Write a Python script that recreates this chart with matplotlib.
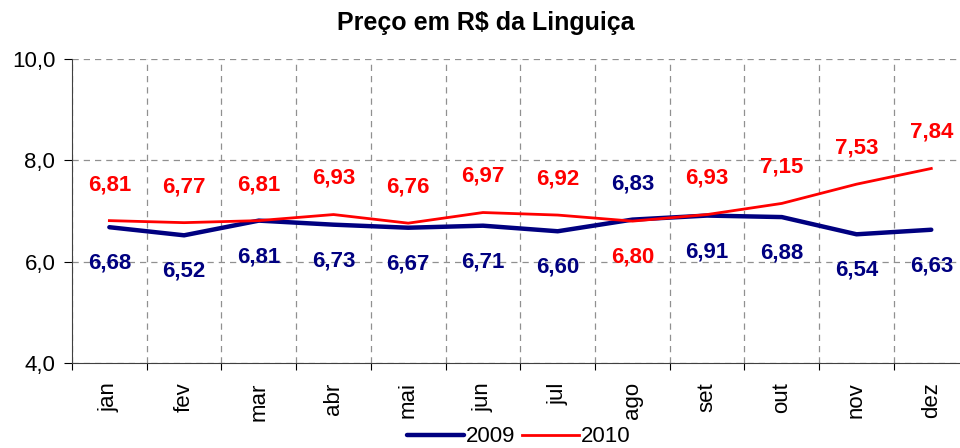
import numpy as np
import matplotlib.pyplot as plt

plt.rcParams['font.family'] = ['Liberation Sans', 'DejaVu Sans']

meses = ["jan", "fev", "mar", "abr", "mai", "jun", "jul", "ago", "set", "out", "nov", "dez"]
preco_2009 = [6.68, 6.52, 6.81, 6.73, 6.67, 6.71, 6.60, 6.83, 6.91, 6.88, 6.54, 6.63]
preco_2010 = [6.81, 6.77, 6.81, 6.93, 6.76, 6.97, 6.92, 6.80, 6.93, 7.15, 7.53, 7.84]

cor_2009 = "#000080"
cor_2010 = "#ff0000"

fig = plt.figure(figsize=(9.6, 4.48), dpi=100)
# o grafico original fica cortado na borda direita
ax = fig.add_axes([0.075, 0.19, 0.934, 0.678])

x = np.arange(len(meses))
ax.plot(x, preco_2009, color=cor_2009, lw=3.2, label="2009", solid_capstyle="round")
ax.plot(x, preco_2010, color=cor_2010, lw=2.0, label="2010")

def fmt(v):
    return f"{v:.2f}".replace(".", ",")

for i in x:
    v9, v10 = preco_2009[i], preco_2010[i]
    # 2010 fica acima, a nao ser que 2009 seja maior
    dy9, dy10 = (26, -26) if v9 > v10 else (-26, 26)
    ax.annotate(fmt(v9), (i, v9), xytext=(0, dy9), textcoords="offset points",
                ha="center", va="center", color=cor_2009, fontsize=16, fontweight="bold")
    ax.annotate(fmt(v10), (i, v10), xytext=(0, dy10), textcoords="offset points",
                ha="center", va="center", color=cor_2010, fontsize=16, fontweight="bold")

ax.set_xlim(-0.5, len(meses) - 0.5)
ax.set_ylim(4, 10)
ax.set_yticks([4, 6, 8, 10])
ax.set_yticklabels(["4,0", "6,0", "8,0", "10,0"], fontsize=16)

ax.set_xticks(np.arange(-0.5, len(meses), 1))
ax.set_xticklabels([])
ax.set_xticks(x, minor=True)
ax.set_xticklabels(meses, minor=True, rotation=90, fontsize=16)
ax.tick_params(axis="x", which="minor", length=0, pad=14)
ax.tick_params(axis="x", which="major", length=5)
ax.tick_params(axis="y", length=6, pad=6)

ax.grid(True, which="major", ls=(0, (5, 4)), color="#909090", lw=0.9)
ax.set_axisbelow(True)
for s in ["top", "right"]:
    ax.spines[s].set_visible(False)
for s in ["left", "bottom"]:
    ax.spines[s].set_color("#404040")

fig.text(0.506, 0.948, "Preço em R$ da Linguiça", fontsize=18, fontweight="bold",
         ha="center", va="center")

fig.legend(*ax.get_legend_handles_labels(), loc="center", bbox_to_anchor=(0.54, 0.025),
           ncol=2, frameon=False, fontsize=16, handlelength=2.6, handletextpad=0.05,
           columnspacing=0.3, borderpad=0)

fig.savefig("out.png", dpi=100)
